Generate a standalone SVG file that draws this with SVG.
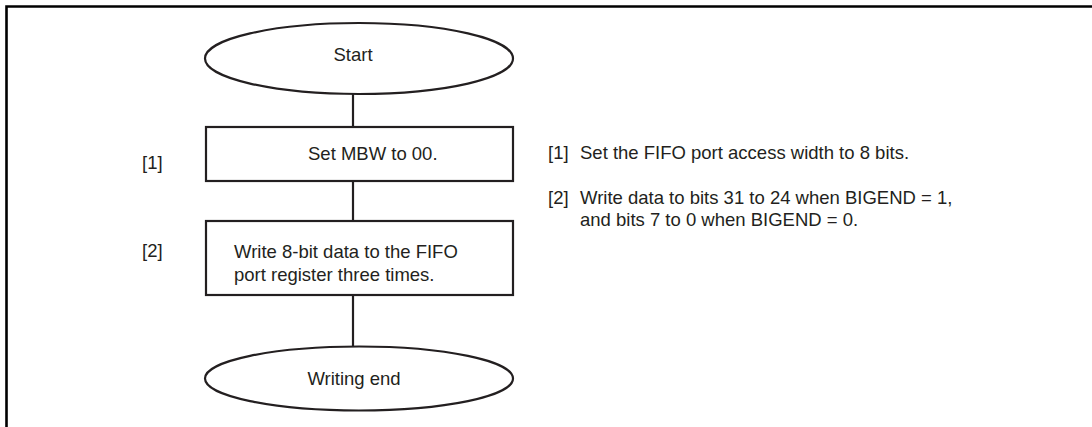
<svg xmlns="http://www.w3.org/2000/svg" width="1092" height="427" viewBox="0 0 1092 427">
<style>
.t{font-family:"Liberation Sans",Arial,sans-serif;font-size:18.5px;fill:#231f20}
.s{fill:#fff;stroke:#231f20;stroke-width:2.2}
.c{stroke:#231f20;stroke-width:2.2;fill:none}
</style>
<rect width="1092" height="427" fill="#fff"/>
<path d="M6.5 427 V6.5 H1092" fill="none" stroke="#000" stroke-width="2.6"/>
<g id="connectors">
<line class="c" x1="353" y1="94" x2="353" y2="127"/>
<line class="c" x1="353" y1="181" x2="353" y2="221"/>
<line class="c" x1="353" y1="295" x2="353" y2="347"/>
</g>
<g id="start">
<ellipse class="s" cx="359" cy="58.5" rx="154" ry="35.5"/>
<text class="t" x="353" y="61" text-anchor="middle">Start</text>
</g>
<g id="step1">
<rect class="s" x="206" y="127" width="307" height="54"/>
<text class="t" x="308" y="160">Set MBW to 00.</text>
<text class="t" x="142" y="169">[1]</text>
</g>
<g id="step2">
<rect class="s" x="206" y="221" width="307" height="74"/>
<text class="t" x="234" y="258">Write 8-bit data to the FIFO</text>
<text class="t" x="234" y="281">port register three times.</text>
<text class="t" x="142" y="257">[2]</text>
</g>
<g id="end">
<ellipse class="s" cx="359" cy="378.5" rx="154" ry="32"/>
<text class="t" x="354" y="385" text-anchor="middle">Writing end</text>
</g>
<g id="notes">
<text class="t" x="548" y="159">[1]</text>
<text class="t" x="580" y="159">Set the FIFO port access width to 8 bits.</text>
<text class="t" x="548" y="204">[2]</text>
<text class="t" x="580" y="204">Write data to bits 31 to 24 when BIGEND = 1,</text>
<text class="t" x="580" y="226">and bits 7 to 0 when BIGEND = 0.</text>
</g>
</svg>
